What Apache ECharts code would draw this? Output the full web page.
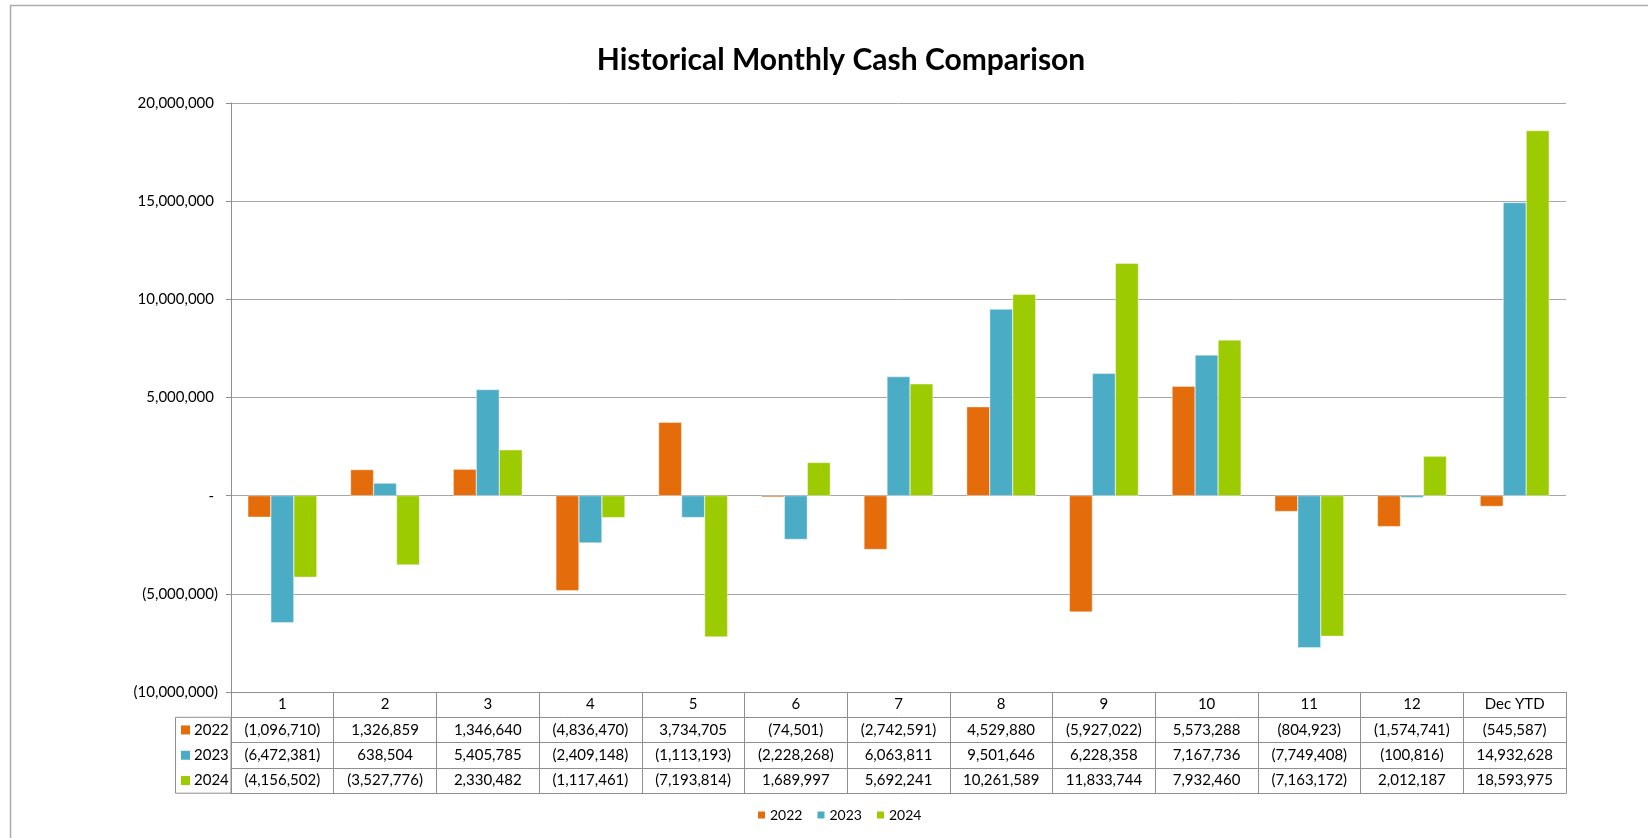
<!DOCTYPE html>
<html>
<head>
<meta charset="utf-8">
<script src="https://cdn.jsdelivr.net/npm/echarts@6/dist/echarts.min.js"></script>
<style>
html, body { margin: 0; padding: 0; background: #fff; }
#main { width: 1648px; height: 838px; }
</style>
</head>
<body>
<div id="main"></div>
<script>
var categories = ['1', '2', '3', '4', '5', '6', '7', '8', '9', '10', '11', '12', 'Dec YTD'];
var years = ['2022', '2023', '2024'];
var colors = ['#E46C0A', '#4BACC6', '#9BCB00'];
var cash2022 = [-1096710, 1326859, 1346640, -4836470, 3734705, -74501, -2742591, 4529880, -5927022, 5573288, -804923, -1574741, -545587];
var cash2023 = [-6472381, 638504, 5405785, -2409148, -1113193, -2228268, 6063811, 9501646, 6228358, 7167736, -7749408, -100816, 14932628];
var cash2024 = [-4156502, -3527776, 2330482, -1117461, -7193814, 1689997, 5692241, 10261589, 11833744, 7932460, -7163172, 2012187, 18593975];
var yTicks = { min: -10000000, max: 20000000, step: 5000000 };

var allCash = [cash2022, cash2023, cash2024];
var font = 'Lato';
var lineGray = '#8F8F8F';

// layout
var gridLeft = 231, gridRight = 1566, gridTop = 103, gridBottom = 692;
var rowH = 25.3;

function acct(v) {
    var s = Math.abs(v).toLocaleString('en-US');
    return v < 0 ? '(' + s + ')' : s;
}

var myChart = echarts.init(document.getElementById('main'));

// table rows drawn as extra category axes under the plot
var xAxes = [{
    type: 'category',
    data: categories,
    position: 'bottom',
    axisLine: { onZero: false, lineStyle: { color: lineGray, width: 1 } },
    axisTick: { show: true, length: rowH, interval: 0, lineStyle: { color: lineGray } },
    axisLabel: { interval: 0, margin: 5, color: '#000', fontSize: 15, fontFamily: font },
    splitLine: { show: false }
}];
for (var r = 0; r < allCash.length; r++) {
    (function (vals, k) {
        xAxes.push({
            type: 'category',
            data: categories,
            position: 'bottom',
            offset: rowH * (k + 1),
            axisLine: { onZero: false, lineStyle: { color: lineGray, width: 1 } },
            axisTick: { show: true, length: rowH, interval: 0, lineStyle: { color: lineGray } },
            axisLabel: {
                interval: 0, margin: 5, color: '#000', fontSize: 15, fontFamily: font,
                formatter: function (val, idx) { return acct(vals[idx]); }
            }
        });
    })(allCash[r], r);
}
xAxes.push({
    type: 'category',
    data: categories,
    position: 'bottom',
    offset: rowH * 4,
    axisLine: { onZero: false, lineStyle: { color: lineGray, width: 1 } },
    axisTick: { show: false },
    axisLabel: { show: false }
});

// legend key column of the table
var keyGraphics = [{
    type: 'rect',
    shape: { x: 175.5, y: gridBottom + rowH, width: gridLeft - 175.5, height: rowH * 3 },
    style: { fill: 'none', stroke: lineGray, lineWidth: 1 }
}];
for (var i = 0; i < years.length; i++) {
    var cy = gridBottom + rowH * (i + 1.5);
    keyGraphics.push({
        type: 'rect',
        shape: { x: 181, y: cy - 4.5, width: 9, height: 9 },
        style: { fill: colors[i] }
    });
    keyGraphics.push({
        type: 'text',
        x: 194, y: cy,
        style: { text: years[i], fill: '#000', fontSize: 15, fontFamily: font, verticalAlign: 'middle' }
    });
}
keyGraphics.push({
    type: 'rect',
    shape: { x: 10.5, y: 5.5, width: 1800, height: 900 },
    style: { fill: 'none', stroke: '#ABABAB', lineWidth: 1.5 }
});

var series = [];
for (var s = 0; s < years.length; s++) {
    series.push({
        name: years[s],
        type: 'bar',
        data: allCash[s],
        barWidth: 23,
        barGap: '0%',
        itemStyle: { color: colors[s], borderColor: '#fff', borderWidth: 0.4 }
    });
}

option = {
    animation: false,
    textStyle: { fontFamily: font },
    title: {
        text: 'Historical Monthly Cash Comparison',
        left: 836,
        textAlign: 'center',
        top: 40,
        textStyle: { fontSize: 30, fontWeight: 'bold', color: '#000', fontFamily: font }
    },
    legend: {
        data: years,
        left: 756,
        top: 808,
        padding: 0,
        itemWidth: 9,
        itemHeight: 9,
        itemGap: 13,
        icon: 'rect',
        textStyle: { fontSize: 14, color: '#000', fontFamily: font, padding: [0, 0, 0, -1] }
    },
    grid: {
        left: gridLeft,
        right: 1648 - gridRight,
        top: gridTop,
        bottom: 838 - gridBottom
    },
    xAxis: xAxes,
    yAxis: {
        type: 'value',
        min: yTicks.min,
        max: yTicks.max,
        interval: yTicks.step,
        axisLine: { show: true, lineStyle: { color: lineGray } },
        axisTick: { show: true, length: 5, lineStyle: { color: lineGray } },
        splitLine: { lineStyle: { color: '#A6A6A6' } },
        axisLabel: {
            margin: 13,
            color: '#000',
            fontSize: 15,
            fontFamily: font,
            formatter: function (v) {
                if (v < 0) return acct(v);
                return (v === 0 ? '-' : acct(v)) + '{p| }';
            },
            rich: { p: { width: 4 } }
        }
    },
    graphic: keyGraphics,
    series: series
};

myChart.setOption(option);
window.addEventListener('resize', function () {
    myChart.resize();
});
</script>
</body>
</html>
